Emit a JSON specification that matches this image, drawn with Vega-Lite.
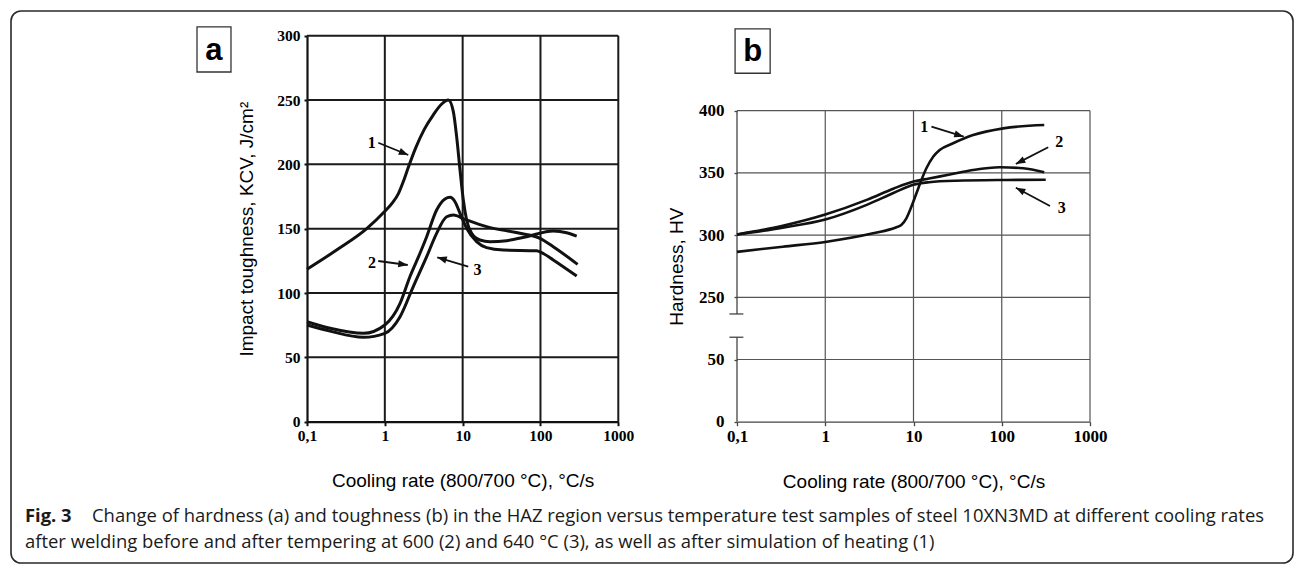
{
  "$schema": "https://vega.github.io/schema/vega-lite/v6.json",
  "width": 1282,
  "height": 552,
  "autosize": {"type": "none"},
  "padding": {"left": 11, "top": 11, "right": 3, "bottom": 2},
  "background": "white",
  "config": {
    "view": {"stroke": "#2a2a2a", "strokeWidth": 1.6, "cornerRadius": 10},
    "axis": {"labelFont": "Liberation Serif", "labelFontWeight": "bold", "labelColor": "#000000", "titleFont": "Liberation Sans", "titleFontWeight": "normal", "titleColor": "#000000", "grid": false, "labelFlush": false, "labelOverlap": false}
  },
  "datasets": {
    "curvesA": [
      {"c": "1", "r": 0.1, "v": 118.5}, {"c": "1", "r": 0.24, "v": 133.4}, {"c": "1", "r": 0.585, "v": 150}, {"c": "1", "r": 1.0, "v": 163.5}, {"c": "1", "r": 1.25, "v": 170}, {"c": "1", "r": 1.5, "v": 177.5}, {"c": "1", "r": 1.75, "v": 187.5}, {"c": "1", "r": 2.0, "v": 197.5}, {"c": "1", "r": 2.5, "v": 213}, {"c": "1", "r": 3.2, "v": 227}, {"c": "1", "r": 4.2, "v": 238.5}, {"c": "1", "r": 5.3, "v": 246.5}, {"c": "1", "r": 6.55, "v": 250}, {"c": "1", "r": 7.59, "v": 241}, {"c": "1", "r": 8.37, "v": 221.5}, {"c": "1", "r": 9.25, "v": 195.6}, {"c": "1", "r": 10.2, "v": 172.3}, {"c": "1", "r": 11.25, "v": 156.8}, {"c": "1", "r": 13.05, "v": 146.4}, {"c": "1", "r": 16.7, "v": 141.2}, {"c": "1", "r": 22.4, "v": 139.9}, {"c": "1", "r": 36.8, "v": 140.7}, {"c": "1", "r": 66.4, "v": 143.8}, {"c": "1", "r": 146, "v": 148.2}, {"c": "1", "r": 217, "v": 146.9}, {"c": "1", "r": 292, "v": 144.3},
      {"c": "2", "r": 0.1, "v": 77.7}, {"c": "2", "r": 0.198, "v": 72.6}, {"c": "2", "r": 0.53, "v": 68.7}, {"c": "2", "r": 1.0, "v": 75.2}, {"c": "2", "r": 1.57, "v": 92}, {"c": "2", "r": 2.1, "v": 112.7}, {"c": "2", "r": 2.83, "v": 130.9}, {"c": "2", "r": 3.45, "v": 143.8}, {"c": "2", "r": 4.63, "v": 164.5}, {"c": "2", "r": 5.93, "v": 173.1}, {"c": "2", "r": 6.88, "v": 174.4}, {"c": "2", "r": 7.97, "v": 171}, {"c": "2", "r": 9.25, "v": 161.9}, {"c": "2", "r": 11.25, "v": 150.3}, {"c": "2", "r": 15.1, "v": 139.9}, {"c": "2", "r": 20.3, "v": 135.3}, {"c": "2", "r": 33.3, "v": 133.4}, {"c": "2", "r": 89.3, "v": 132.9}, {"c": "2", "r": 110, "v": 130.5}, {"c": "2", "r": 146, "v": 125.7}, {"c": "2", "r": 292, "v": 113.2},
      {"c": "3", "r": 0.1, "v": 75.2}, {"c": "3", "r": 0.198, "v": 70.4}, {"c": "3", "r": 0.53, "v": 65.6}, {"c": "3", "r": 1.0, "v": 68.7}, {"c": "3", "r": 1.57, "v": 81.6}, {"c": "3", "r": 2.32, "v": 105}, {"c": "3", "r": 3.45, "v": 128.3}, {"c": "3", "r": 4.63, "v": 146.4}, {"c": "3", "r": 6.23, "v": 159.3}, {"c": "3", "r": 7.59, "v": 160.6}, {"c": "3", "r": 10.7, "v": 157.3}, {"c": "3", "r": 20.3, "v": 151.6}, {"c": "3", "r": 54.5, "v": 146.4}, {"c": "3", "r": 98.6, "v": 142.5}, {"c": "3", "r": 146, "v": 136}, {"c": "3", "r": 300, "v": 122.3}
    ],
    "curvesB": [
      {"c": "1", "r": 0.1, "v": 286.5}, {"c": "1", "r": 0.33, "v": 290.7}, {"c": "1", "r": 1, "v": 294.5}, {"c": "1", "r": 3.48, "v": 301.4}, {"c": "1", "r": 6.4, "v": 306.3}, {"c": "1", "r": 7.27, "v": 308.1}, {"c": "1", "r": 8.3, "v": 313.5}, {"c": "1", "r": 9.46, "v": 322.8}, {"c": "1", "r": 10.8, "v": 333.6}, {"c": "1", "r": 12.3, "v": 344.3}, {"c": "1", "r": 14, "v": 353.7}, {"c": "1", "r": 16.7, "v": 363}, {"c": "1", "r": 19.8, "v": 368.4}, {"c": "1", "r": 28.1, "v": 373.8}, {"c": "1", "r": 47.4, "v": 380.4}, {"c": "1", "r": 104, "v": 385.8}, {"c": "1", "r": 303, "v": 388.5},
      {"c": "2", "r": 0.1, "v": 300.5}, {"c": "2", "r": 0.33, "v": 307.5}, {"c": "2", "r": 1, "v": 316.5}, {"c": "2", "r": 3, "v": 328.5}, {"c": "2", "r": 6, "v": 337.5}, {"c": "2", "r": 10, "v": 343}, {"c": "2", "r": 15, "v": 345.5}, {"c": "2", "r": 25, "v": 348.5}, {"c": "2", "r": 47, "v": 352.3}, {"c": "2", "r": 95, "v": 354.5}, {"c": "2", "r": 175, "v": 353.7}, {"c": "2", "r": 303, "v": 350.5},
      {"c": "3", "r": 0.1, "v": 300.5}, {"c": "3", "r": 0.33, "v": 306}, {"c": "3", "r": 1, "v": 312.5}, {"c": "3", "r": 3, "v": 324.5}, {"c": "3", "r": 6, "v": 334}, {"c": "3", "r": 10, "v": 340.5}, {"c": "3", "r": 15, "v": 342.5}, {"c": "3", "r": 30, "v": 343.7}, {"c": "3", "r": 113, "v": 344.3}, {"c": "3", "r": 315, "v": 344.5}
    ],
    "arrowsA": [
      {"id": "1", "x0": 0.824, "y0": 216.8, "x1": 2.0, "y1": 207.3, "lx": 0.677, "ly": 216.4},
      {"id": "2", "x0": 0.824, "y0": 124.9, "x1": 1.97, "y1": 121.8, "lx": 0.684, "ly": 123.1},
      {"id": "3", "x0": 11.8, "y0": 120.5, "x1": 4.72, "y1": 127.8, "lx": 15.5, "ly": 117.9}
    ],
    "arrowsB": [
      {"id": "1", "x0": 15.97, "y0": 387.2, "x1": 37.1, "y1": 379.1, "lx": 13.2, "ly": 386.7},
      {"id": "2", "x0": 336, "y0": 370.6, "x1": 144.5, "y1": 357.2, "lx": 448, "ly": 375.1},
      {"id": "3", "x0": 352, "y0": 323.4, "x1": 144.5, "y1": 338.1, "lx": 477, "ly": 321.6}
    ],
    "caption": [
      {"line": 1, "em": 0, "bold": true, "text": "Fig. 3"},
      {"line": 1, "em": 4.046, "bold": false, "text": "Change of hardness (a) and toughness (b) in the HAZ region versus temperature test samples of steel 10XN3MD at different cooling rates"},
      {"line": 2, "em": 0, "bold": false, "text": "after welding before and after tempering at 600 (2) and 640 °C (3), as well as after simulation of heating (1)"}
    ]
  },
  "layer": [
    {
      "layer": [
        {
          "data": {"values": [{"g": 1}, {"g": 10}, {"g": 100}, {"g": 1000}]},
          "mark": {"type": "rule", "color": "#1a1a1a", "strokeWidth": 2},
          "encoding": {
            "x": {"field": "g", "type": "quantitative", "scale": {"type": "log", "domain": [0.1, 1000], "range": [296, 607.3], "nice": false}},
            "y": {"datum": 0, "type": "quantitative", "scale": {"type": "linear", "domain": [0, 300], "range": [410.7, 24.7], "nice": false, "zero": false}},
            "y2": {"datum": 300}
          }
        },
        {
          "data": {"values": [{"g": 50}, {"g": 100}, {"g": 150}, {"g": 200}, {"g": 250}, {"g": 300}]},
          "mark": {"type": "rule", "color": "#1a1a1a", "strokeWidth": 2},
          "encoding": {
            "y": {"field": "g", "type": "quantitative", "scale": {"type": "linear", "domain": [0, 300], "range": [410.7, 24.7], "nice": false, "zero": false}},
            "x": {"datum": 0.1, "type": "quantitative", "scale": {"type": "log", "domain": [0.1, 1000], "range": [296, 607.3], "nice": false}},
            "x2": {"datum": 1000}
          }
        },
        {
          "data": {"name": "curvesA"},
          "mark": {"type": "line", "color": "#111111", "strokeWidth": 3, "interpolate": "monotone"},
          "encoding": {
            "x": {"field": "r", "type": "quantitative", "scale": {"type": "log", "domain": [0.1, 1000], "range": [296, 607.3], "nice": false},
              "axis": {"orient": "bottom", "offset": -141.3, "values": [0.1, 1, 10, 100, 1000], "labelExpr": "datum.value < 0.5 ? '0,1' : format(datum.value, 'd')", "domainColor": "#111111", "domainWidth": 2.2, "tickColor": "#111111", "tickWidth": 2, "tickSize": 4, "labelPadding": 3, "labelFontSize": 15.5, "title": "Cooling rate (800/700 °C), °C/s", "titleFontSize": 19, "titlePadding": 27}},
            "y": {"field": "v", "type": "quantitative", "scale": {"type": "linear", "domain": [0, 300], "range": [410.7, 24.7], "nice": false, "zero": false},
              "axis": {"orient": "left", "offset": -296, "values": [0, 50, 100, 150, 200, 250, 300], "domainColor": "#111111", "domainWidth": 2.2, "tickColor": "#111111", "tickWidth": 2, "tickSize": 3, "labelPadding": 4, "labelFontSize": 15.5, "title": "Impact toughness, KCV, J/cm²", "titleFontSize": 19, "titlePadding": 20}},
            "detail": {"field": "c"}
          }
        },
        {
          "data": {"name": "arrowsA"},
          "mark": {"type": "rule", "color": "#111111", "strokeWidth": 1.8},
          "encoding": {
            "x": {"field": "x0", "type": "quantitative", "scale": {"type": "log", "domain": [0.1, 1000], "range": [296, 607.3], "nice": false}},
            "x2": {"field": "x1"},
            "y": {"field": "y0", "type": "quantitative", "scale": {"type": "linear", "domain": [0, 300], "range": [410.7, 24.7], "nice": false, "zero": false}},
            "y2": {"field": "y1"}
          }
        },
        {
          "data": {"name": "arrowsA"},
          "transform": [{"filter": "datum.id == '1'"}],
          "mark": {"type": "point", "shape": "M0,0L-2,-0.75L-2,0.75Z", "filled": true, "color": "#111111", "size": 90, "opacity": 1, "angle": 22.3},
          "encoding": {
            "x": {"field": "x1", "type": "quantitative", "scale": {"type": "log", "domain": [0.1, 1000], "range": [296, 607.3], "nice": false}},
            "y": {"field": "y1", "type": "quantitative", "scale": {"type": "linear", "domain": [0, 300], "range": [410.7, 24.7], "nice": false, "zero": false}}
          }
        },
        {
          "data": {"name": "arrowsA"},
          "transform": [{"filter": "datum.id == '2'"}],
          "mark": {"type": "point", "shape": "M0,0L-2,-0.75L-2,0.75Z", "filled": true, "color": "#111111", "size": 90, "opacity": 1, "angle": 7.7},
          "encoding": {
            "x": {"field": "x1", "type": "quantitative", "scale": {"type": "log", "domain": [0.1, 1000], "range": [296, 607.3], "nice": false}},
            "y": {"field": "y1", "type": "quantitative", "scale": {"type": "linear", "domain": [0, 300], "range": [410.7, 24.7], "nice": false, "zero": false}}
          }
        },
        {
          "data": {"name": "arrowsA"},
          "transform": [{"filter": "datum.id == '3'"}],
          "mark": {"type": "point", "shape": "M0,0L-2,-0.75L-2,0.75Z", "filled": true, "color": "#111111", "size": 90, "opacity": 1, "angle": 196.9},
          "encoding": {
            "x": {"field": "x1", "type": "quantitative", "scale": {"type": "log", "domain": [0.1, 1000], "range": [296, 607.3], "nice": false}},
            "y": {"field": "y1", "type": "quantitative", "scale": {"type": "linear", "domain": [0, 300], "range": [410.7, 24.7], "nice": false, "zero": false}}
          }
        },
        {
          "data": {"name": "arrowsA"},
          "mark": {"type": "text", "font": "Liberation Serif", "fontWeight": "bold", "fontSize": 16, "color": "#000000", "align": "center", "baseline": "middle"},
          "encoding": {
            "x": {"field": "lx", "type": "quantitative", "scale": {"type": "log", "domain": [0.1, 1000], "range": [296, 607.3], "nice": false}},
            "y": {"field": "ly", "type": "quantitative", "scale": {"type": "linear", "domain": [0, 300], "range": [410.7, 24.7], "nice": false, "zero": false}},
            "text": {"field": "id"}
          }
        },
        {
          "data": {"values": [{"t": "a", "bx0": 0.00386, "bx1": 0.01055, "by0": 306.8, "by1": 271.8}]},
          "mark": {"type": "rect", "fill": "white", "stroke": "#333333", "strokeWidth": 1.3, "clip": false},
          "encoding": {
            "x": {"field": "bx0", "type": "quantitative", "scale": {"type": "log", "domain": [0.1, 1000], "range": [296, 607.3], "nice": false}},
            "x2": {"field": "bx1"},
            "y": {"field": "by0", "type": "quantitative", "scale": {"type": "linear", "domain": [0, 300], "range": [410.7, 24.7], "nice": false, "zero": false}},
            "y2": {"field": "by1"}
          }
        },
        {
          "data": {"values": [{"t": "a", "tx": 0.00638, "ty": 289.1}]},
          "mark": {"type": "text", "font": "Liberation Sans", "fontWeight": "bold", "fontSize": 31, "color": "#000000", "align": "center", "baseline": "middle", "dy": 1},
          "encoding": {
            "x": {"field": "tx", "type": "quantitative", "scale": {"type": "log", "domain": [0.1, 1000], "range": [296, 607.3], "nice": false}},
            "y": {"field": "ty", "type": "quantitative", "scale": {"type": "linear", "domain": [0, 300], "range": [410.7, 24.7], "nice": false, "zero": false}},
            "text": {"field": "t"}
          }
        }
      ]
    },
    {
      "layer": [
        {
          "data": {"values": [{"g": 1}, {"g": 10}, {"g": 100}, {"g": 1000}]},
          "mark": {"type": "rule", "color": "#555555", "strokeWidth": 1.2},
          "encoding": {
            "x": {"field": "g", "type": "quantitative", "scale": {"type": "log", "domain": [0.1, 1000], "range": [726, 1079], "nice": false}},
            "y": {"datum": 150, "type": "quantitative", "scale": {"type": "linear", "domain": [150, 400], "range": [410.7, 99.7], "nice": false, "zero": false}},
            "y2": {"datum": 400}
          }
        },
        {
          "data": {"values": [{"g": 200}, {"g": 250}, {"g": 300}, {"g": 350}, {"g": 400}]},
          "mark": {"type": "rule", "color": "#555555", "strokeWidth": 1.2},
          "encoding": {
            "y": {"field": "g", "type": "quantitative", "scale": {"type": "linear", "domain": [150, 400], "range": [410.7, 99.7], "nice": false, "zero": false}},
            "x": {"datum": 0.1, "type": "quantitative", "scale": {"type": "log", "domain": [0.1, 1000], "range": [726, 1079], "nice": false}},
            "x2": {"datum": 1000}
          }
        },
        {
          "data": {"values": [{"lo": 150, "hi": 217.9}, {"lo": 236.6, "hi": 400}]},
          "mark": {"type": "rule", "color": "#444444", "strokeWidth": 1.3},
          "encoding": {
            "y": {"field": "lo", "type": "quantitative", "scale": {"type": "linear", "domain": [150, 400], "range": [410.7, 99.7], "nice": false, "zero": false}},
            "y2": {"field": "hi"},
            "x": {"datum": 0.1, "type": "quantitative", "scale": {"type": "log", "domain": [0.1, 1000], "range": [726, 1079], "nice": false}}
          }
        },
        {
          "data": {"values": [{"cap": 217.9}, {"cap": 236.6}]},
          "mark": {"type": "rule", "color": "#444444", "strokeWidth": 1.3},
          "encoding": {
            "y": {"field": "cap", "type": "quantitative", "scale": {"type": "linear", "domain": [150, 400], "range": [410.7, 99.7], "nice": false, "zero": false}},
            "x": {"datum": 0.082, "type": "quantitative", "scale": {"type": "log", "domain": [0.1, 1000], "range": [726, 1079], "nice": false}},
            "x2": {"datum": 0.118}
          }
        },
        {
          "data": {"name": "curvesB"},
          "mark": {"type": "line", "color": "#111111", "strokeWidth": 2.6, "interpolate": "monotone"},
          "encoding": {
            "x": {"field": "r", "type": "quantitative", "scale": {"type": "log", "domain": [0.1, 1000], "range": [726, 1079], "nice": false},
              "axis": {"orient": "bottom", "offset": -141.3, "values": [0.1, 1, 10, 100, 1000], "labelExpr": "datum.value < 0.5 ? '0,1' : format(datum.value, 'd')", "domainColor": "#444444", "domainWidth": 1.3, "tickColor": "#444444", "tickWidth": 1.3, "tickSize": 4, "labelPadding": 3, "labelFontSize": 17, "title": "Cooling rate (800/700 °C), °C/s", "titleFontSize": 19, "titlePadding": 28}},
            "y": {"field": "v", "type": "quantitative", "scale": {"type": "linear", "domain": [150, 400], "range": [410.7, 99.7], "nice": false, "zero": false},
              "axis": {"orient": "left", "offset": -726, "domain": false, "values": [150, 200, 250, 300, 350, 400], "labelExpr": "datum.value == 150 ? '0' : datum.value == 200 ? '50' : datum.label", "tickColor": "#444444", "tickWidth": 1.3, "tickSize": 3, "labelPadding": 10, "labelFontSize": 17, "title": "Hardness, HV", "titleFontSize": 19, "titlePadding": 12}},
            "detail": {"field": "c"}
          }
        },
        {
          "data": {"name": "arrowsB"},
          "mark": {"type": "rule", "color": "#111111", "strokeWidth": 1.8},
          "encoding": {
            "x": {"field": "x0", "type": "quantitative", "scale": {"type": "log", "domain": [0.1, 1000], "range": [726, 1079], "nice": false}},
            "x2": {"field": "x1"},
            "y": {"field": "y0", "type": "quantitative", "scale": {"type": "linear", "domain": [150, 400], "range": [410.7, 99.7], "nice": false, "zero": false}},
            "y2": {"field": "y1"}
          }
        },
        {
          "data": {"name": "arrowsB"},
          "transform": [{"filter": "datum.id == '1'"}],
          "mark": {"type": "point", "shape": "M0,0L-2,-0.75L-2,0.75Z", "filled": true, "color": "#111111", "size": 90, "opacity": 1, "angle": 17.2},
          "encoding": {
            "x": {"field": "x1", "type": "quantitative", "scale": {"type": "log", "domain": [0.1, 1000], "range": [726, 1079], "nice": false}},
            "y": {"field": "y1", "type": "quantitative", "scale": {"type": "linear", "domain": [150, 400], "range": [410.7, 99.7], "nice": false, "zero": false}}
          }
        },
        {
          "data": {"name": "arrowsB"},
          "transform": [{"filter": "datum.id == '2'"}],
          "mark": {"type": "point", "shape": "M0,0L-2,-0.75L-2,0.75Z", "filled": true, "color": "#111111", "size": 90, "opacity": 1, "angle": 152.7},
          "encoding": {
            "x": {"field": "x1", "type": "quantitative", "scale": {"type": "log", "domain": [0.1, 1000], "range": [726, 1079], "nice": false}},
            "y": {"field": "y1", "type": "quantitative", "scale": {"type": "linear", "domain": [150, 400], "range": [410.7, 99.7], "nice": false, "zero": false}}
          }
        },
        {
          "data": {"name": "arrowsB"},
          "transform": [{"filter": "datum.id == '3'"}],
          "mark": {"type": "point", "shape": "M0,0L-2,-0.75L-2,0.75Z", "filled": true, "color": "#111111", "size": 90, "opacity": 1, "angle": 208.3},
          "encoding": {
            "x": {"field": "x1", "type": "quantitative", "scale": {"type": "log", "domain": [0.1, 1000], "range": [726, 1079], "nice": false}},
            "y": {"field": "y1", "type": "quantitative", "scale": {"type": "linear", "domain": [150, 400], "range": [410.7, 99.7], "nice": false, "zero": false}}
          }
        },
        {
          "data": {"name": "arrowsB"},
          "mark": {"type": "text", "font": "Liberation Serif", "fontWeight": "bold", "fontSize": 16, "color": "#000000", "align": "center", "baseline": "middle"},
          "encoding": {
            "x": {"field": "lx", "type": "quantitative", "scale": {"type": "log", "domain": [0.1, 1000], "range": [726, 1079], "nice": false}},
            "y": {"field": "ly", "type": "quantitative", "scale": {"type": "linear", "domain": [150, 400], "range": [410.7, 99.7], "nice": false, "zero": false}},
            "text": {"field": "id"}
          }
        },
        {
          "data": {"values": [{"t": "b", "bx0": 0.0951, "bx1": 0.2375, "by0": 465.7, "by1": 430.1}]},
          "mark": {"type": "rect", "fill": "white", "stroke": "#333333", "strokeWidth": 1.3, "clip": false},
          "encoding": {
            "x": {"field": "bx0", "type": "quantitative", "scale": {"type": "log", "domain": [0.1, 1000], "range": [726, 1079], "nice": false}},
            "x2": {"field": "bx1"},
            "y": {"field": "by0", "type": "quantitative", "scale": {"type": "linear", "domain": [150, 400], "range": [410.7, 99.7], "nice": false, "zero": false}},
            "y2": {"field": "by1"}
          }
        },
        {
          "data": {"values": [{"t": "b", "tx": 0.1503, "ty": 448}]},
          "mark": {"type": "text", "font": "Liberation Sans", "fontWeight": "bold", "fontSize": 31, "color": "#000000", "align": "center", "baseline": "middle", "dy": 1},
          "encoding": {
            "x": {"field": "tx", "type": "quantitative", "scale": {"type": "log", "domain": [0.1, 1000], "range": [726, 1079], "nice": false}},
            "y": {"field": "ty", "type": "quantitative", "scale": {"type": "linear", "domain": [150, 400], "range": [410.7, 99.7], "nice": false, "zero": false}},
            "text": {"field": "t"}
          }
        }
      ]
    },
    {
      "layer": [
        {
          "data": {"name": "caption"},
          "transform": [{"filter": "!datum.bold"}],
          "mark": {"type": "text", "font": "Open Sans", "fontSize": 18.45, "color": "#1a1a1a", "align": "left", "baseline": "alphabetic"},
          "encoding": {
            "x": {"field": "em", "type": "quantitative", "scale": {"type": "linear", "domain": [0, 75], "range": [14, 1256], "nice": false, "zero": false}, "axis": null},
            "y": {"field": "line", "type": "quantitative", "scale": {"type": "linear", "domain": [1, 2], "range": [511, 536.5], "nice": false, "zero": false}, "axis": null},
            "text": {"field": "text"}
          }
        },
        {
          "data": {"name": "caption"},
          "transform": [{"filter": "datum.bold"}],
          "mark": {"type": "text", "font": "Open Sans", "fontWeight": "bold", "fontSize": 18.4, "color": "#1a1a1a", "align": "left", "baseline": "alphabetic"},
          "encoding": {
            "x": {"field": "em", "type": "quantitative", "scale": {"type": "linear", "domain": [0, 75], "range": [14, 1256], "nice": false, "zero": false}, "axis": null},
            "y": {"field": "line", "type": "quantitative", "scale": {"type": "linear", "domain": [1, 2], "range": [511, 536.5], "nice": false, "zero": false}, "axis": null},
            "text": {"field": "text"}
          }
        }
      ]
    }
  ],
  "resolve": {"scale": {"x": "independent", "y": "independent"}, "axis": {"x": "independent", "y": "independent"}}
}
